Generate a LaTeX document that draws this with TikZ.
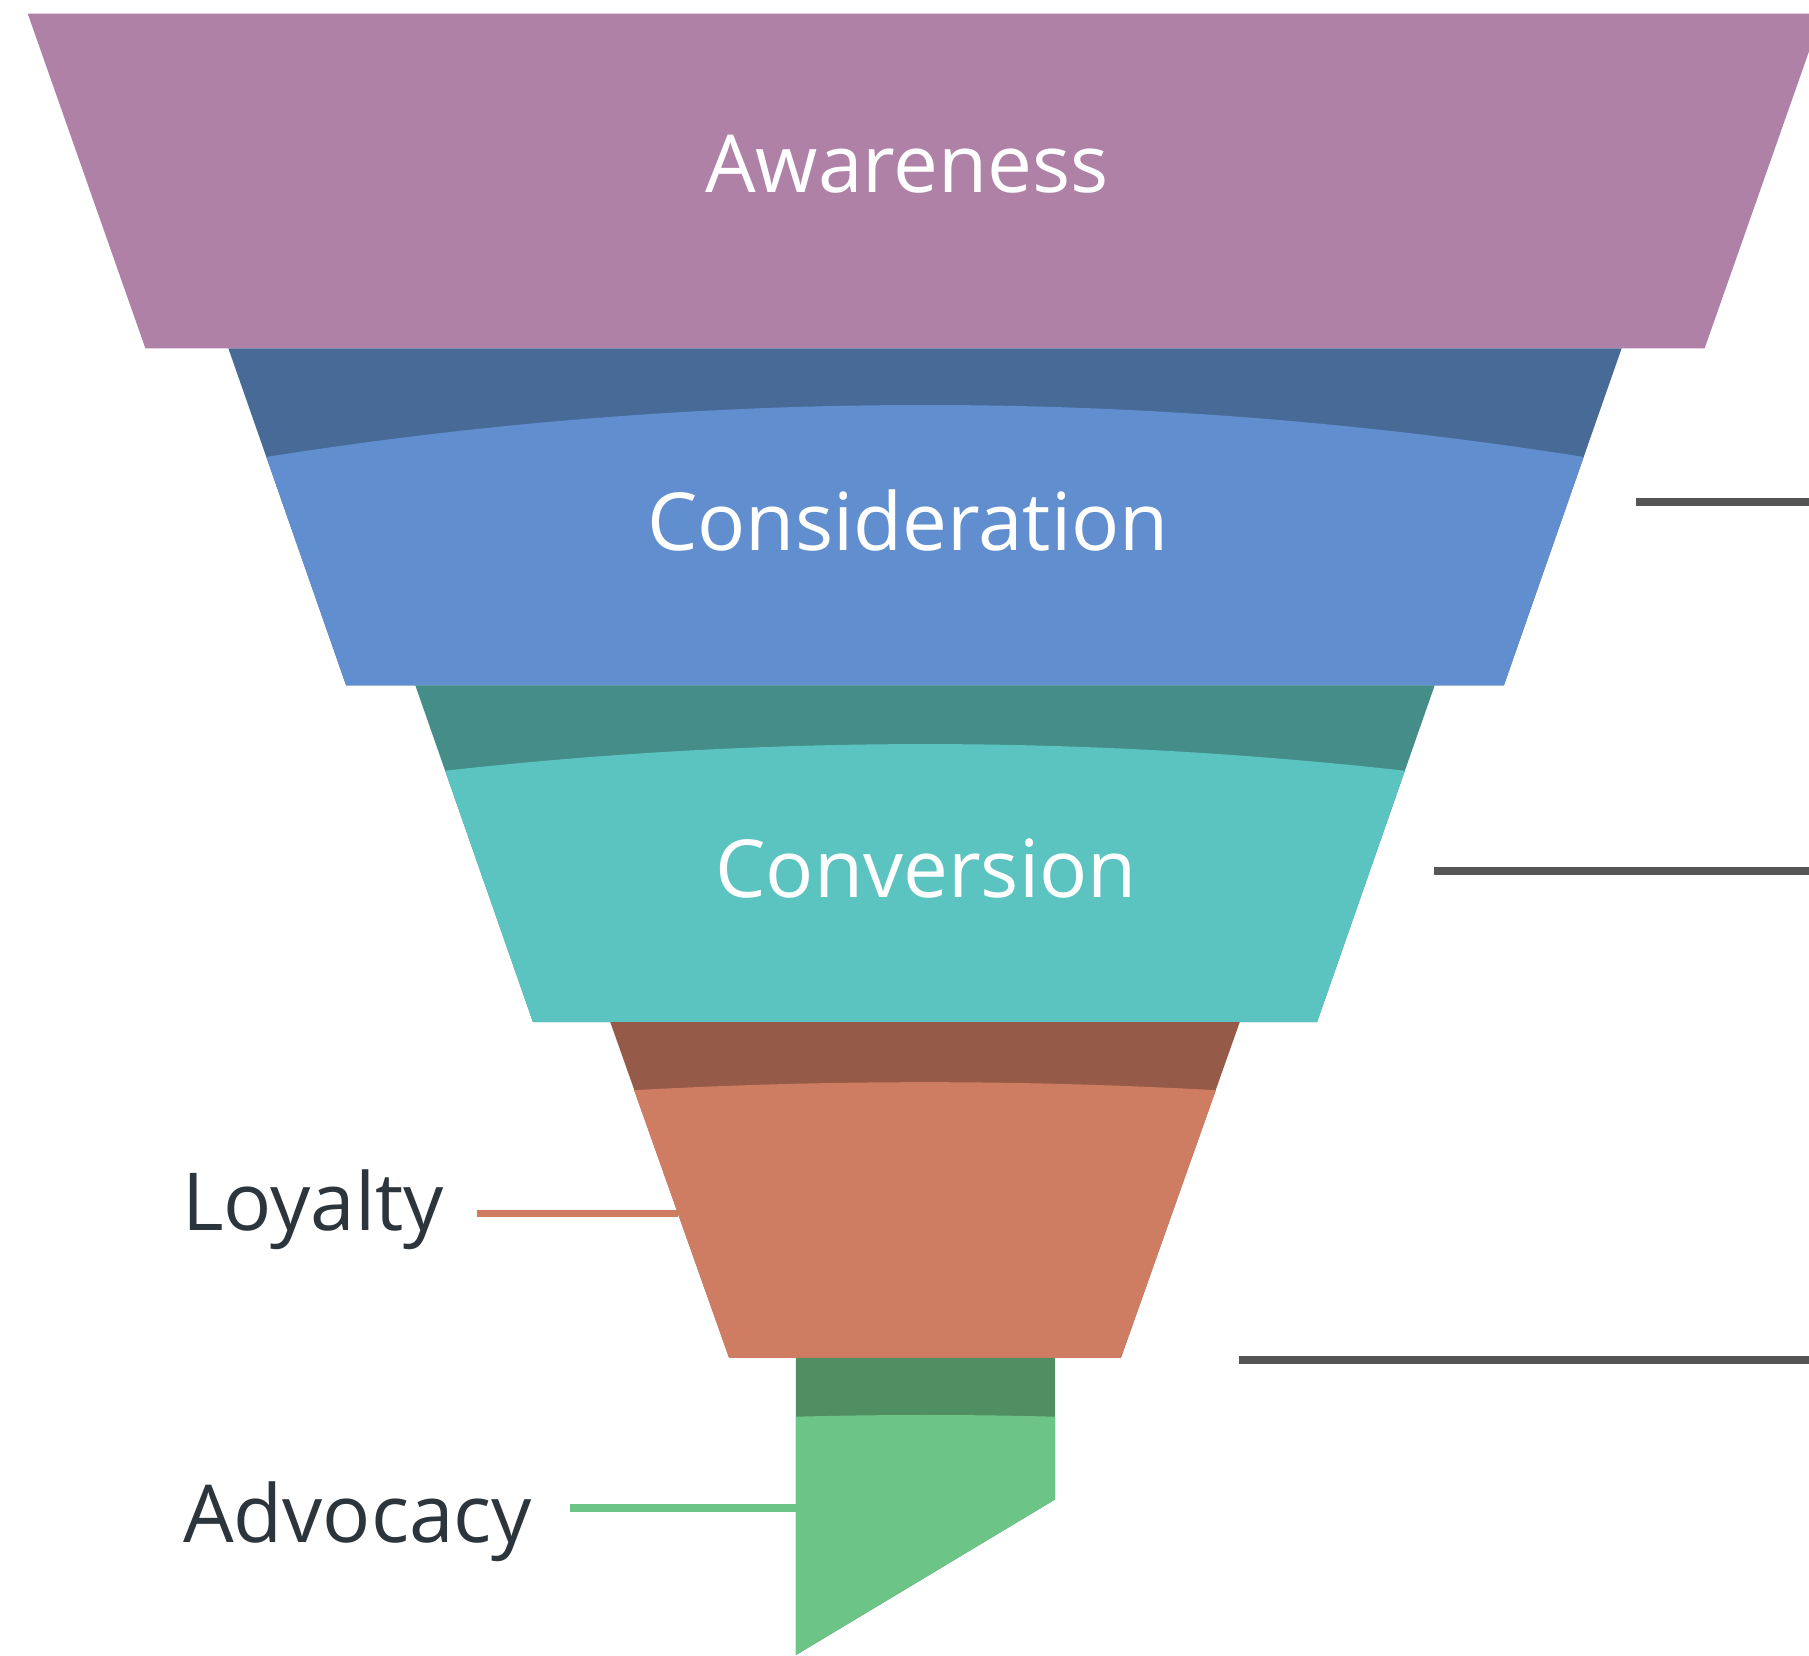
\documentclass[tikz,border=0pt]{standalone}
\usepackage{fontspec}
\setmainfont{Open Sans}

\definecolor{awarenessfill}{HTML}{AF81A7}
\definecolor{considerdark}{HTML}{476A96}
\definecolor{considerlight}{HTML}{618ECF}
\definecolor{conversiondark}{HTML}{448D89}
\definecolor{conversionlight}{HTML}{5CC4C0}
\definecolor{loyaltydark}{HTML}{955B48}
\definecolor{loyaltylight}{HTML}{CE7D63}
\definecolor{advocacydark}{HTML}{508F62}
\definecolor{advocacylight}{HTML}{6CC587}
\definecolor{labelink}{HTML}{2B353B}
\definecolor{leadergray}{HTML}{555555}

\begin{document}
\begin{tikzpicture}[x=1pt,y=-1pt,
  stagetext/.style={text=white,font=\fontsize{80}{96}\selectfont,inner sep=0pt,anchor=base},
  sidetext/.style={text=labelink,font=\fontsize{80}{96}\selectfont,inner sep=0pt,anchor=base west},
  leader/.style={line width=7.5pt}]
\useasboundingbox (0,0) rectangle (1809,1655);
\clip (0,0) rectangle (1809,1655);

% awareness
\fill[awarenessfill] (27.7,13.5) -- (1822.3,13.5) -- (1704.6,348.4) -- (145.4,348.4) -- cycle;
% consideration
\fill[considerdark] (228.4,348.4) -- (1621.6,348.4) -- (1503.9,685.3) -- (346.1,685.3) -- cycle;
\fill[considerlight] (266.4,456.9) .. controls (705.5,387.7) and (1144.5,387.7) .. (1583.6,456.9)
  -- (1503.9,685.3) -- (346.1,685.3) -- cycle;
% conversion
\fill[conversiondark] (415.3,685.3) -- (1434.7,685.3) -- (1317,1022.2) -- (533,1022.2) -- cycle;
\fill[conversionlight] (445.2,770.7) .. controls (765.1,735.2) and (1084.9,735.2) .. (1404.8,770.7)
  -- (1317,1022.2) -- (533,1022.2) -- cycle;
% loyalty
\fill[loyaltydark] (610.3,1022.2) -- (1239.7,1022.2) -- (1120.9,1357.9) -- (729.1,1357.9) -- cycle;
\fill[loyaltylight] (634.1,1090.2) .. controls (828,1079.5) and (1022,1079.5) .. (1215.9,1090.2)
  -- (1120.9,1357.9) -- (729.1,1357.9) -- cycle;
% advocacy
\fill[advocacydark] (795.9,1357.9) -- (1055,1357.9) -- (1055,1499.5) -- (795.9,1655) -- cycle;
\fill[advocacylight] (795.9,1416.7) .. controls (882.3,1414.4) and (968.6,1414.4) .. (1055,1416.7)
  -- (1055,1499.5) -- (795.9,1655) -- cycle;

\node[stagetext] (awareness) at (907,192.7) {Awareness};
\node[stagetext] (consideration) at (908,550) {Consideration};
\node[stagetext] (conversion) at (926,897.3) {Conversion};
\node[sidetext] (loyalty) at (182,1230) {Loyalty};
\node[sidetext] (advocacy) at (183,1542.3) {Advocacy};

\coordinate (loyaltystart) at (477,1213.7);
\coordinate (loyaltyedge) at (677.5,1213.7);
\coordinate (advocacystart) at (570,1507.8);
\coordinate (advocacyedge) at (795.9,1507.8);
\coordinate (rightA) at (1636,501.9);
\coordinate (rightAend) at (1809,501.9);
\coordinate (rightB) at (1434,871);
\coordinate (rightBend) at (1809,871);
\coordinate (rightC) at (1239,1360.2);
\coordinate (rightCend) at (1809,1360.2);

\draw[leader,loyaltylight] (loyaltystart) -- (loyaltyedge);
\draw[leader,advocacylight] (advocacystart) -- (advocacyedge);
\draw[leader,leadergray] (rightA) -- (rightAend);
\draw[leader,leadergray] (rightB) -- (rightBend);
\draw[leader,leadergray] (rightC) -- (rightCend);
\end{tikzpicture}
\end{document}
